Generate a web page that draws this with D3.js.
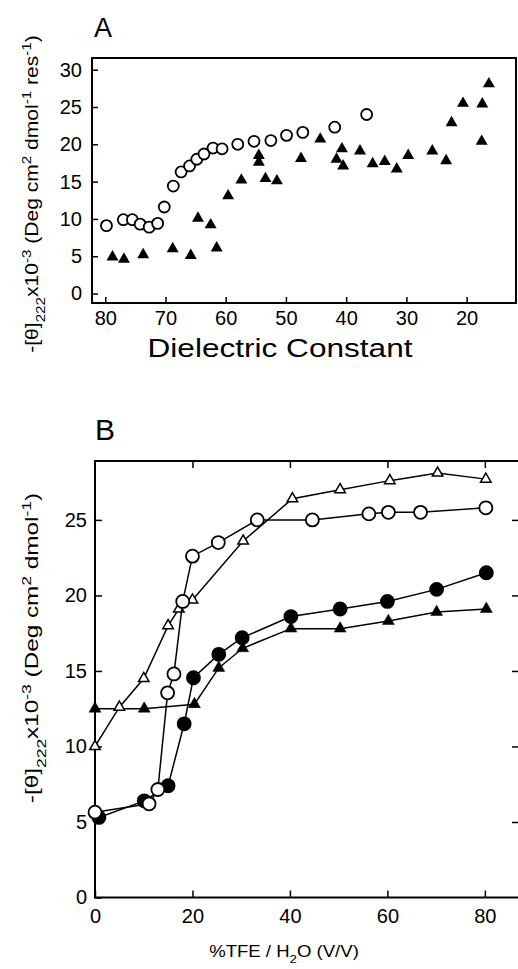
<!DOCTYPE html>
<html>
<head>
<meta charset="utf-8">
<script src="https://cdn.jsdelivr.net/npm/d3@7"></script>
<style>
  body { margin: 0; background: #fff; }
  svg { display: block; }
  text { font-family: "Liberation Sans", Arial, sans-serif; fill: #000; }
</style>
</head>
<body>
<svg id="chart" width="518" height="969"></svg>
<script>
// ---- panel A : dielectric constant ----
var aCircleX = [79.8, 77.0, 75.5, 74.2, 72.7, 71.3, 70.2, 68.7, 67.4, 66.0, 64.8, 63.6, 62.1, 60.6, 58.0, 55.3, 52.5, 49.9, 47.2, 41.9, 36.6];
var aCircleY = [9.1, 9.9, 9.9, 9.3, 8.9, 9.4, 11.6, 14.4, 16.3, 17.1, 18.0, 18.7, 19.5, 19.4, 20.0, 20.4, 20.5, 21.2, 21.6, 22.3, 24.0];
var aTriX = [78.8, 76.9, 73.7, 68.8, 65.8, 64.6, 62.5, 61.5, 59.6, 57.4, 54.5, 54.5, 53.4, 51.5, 47.5, 44.3, 41.6, 40.7, 40.5, 37.7, 35.6, 33.6, 31.6, 29.7, 25.7, 23.4, 22.5, 20.6, 17.5, 17.4, 16.3];
var aTriY = [4.9, 4.6, 5.2, 6.0, 5.1, 10.1, 9.2, 6.1, 13.1, 15.2, 18.5, 17.6, 15.4, 15.1, 18.1, 20.7, 18.0, 19.4, 17.1, 19.1, 17.4, 17.7, 16.7, 18.5, 19.1, 17.8, 22.9, 25.5, 20.4, 25.4, 28.1];
var aXTicks = [80, 70, 60, 50, 40, 30, 20];
var aYTicks = [0, 5, 10, 15, 20, 25, 30];

// ---- panel B : %TFE ----
var bOpenTriX = [0, 5, 10, 15, 17.2, 20, 30.4, 40.5, 50.3, 60.5, 70.3, 80.2];
var bOpenTriY = [10.0, 12.6, 14.5, 18.0, 19.1, 19.7, 23.6, 26.4, 27.0, 27.6, 28.1, 27.7];
var bOpenCircX = [0, 11.1, 12.9, 14.9, 16.2, 18.0, 20.0, 25.3, 33.3, 44.6, 56.2, 60.2, 66.8, 80.2];
var bOpenCircY = [5.65, 6.2, 7.15, 13.55, 14.8, 19.6, 22.6, 23.5, 25.0, 25.0, 25.4, 25.5, 25.5, 25.8];
var bFillCircX = [0.8, 10.1, 15.0, 18.3, 20.2, 25.4, 30.2, 40.2, 50.3, 60.0, 70.1, 80.3];
var bFillCircY = [5.3, 6.4, 7.4, 11.5, 14.55, 16.1, 17.2, 18.6, 19.1, 19.6, 20.4, 21.5];
var bFillTriX = [0, 10.1, 20.4, 25.4, 30.3, 40.2, 50.3, 60.2, 70.1, 80.3];
var bFillTriY = [12.5, 12.5, 12.8, 15.2, 16.5, 17.8, 17.8, 18.3, 18.9, 19.1];
var bXTicks = [0, 20, 40, 60, 80];
var bYTicks = [0, 5, 10, 15, 20, 25];

var svg = d3.select("#chart");

function zip(xs, ys) { return xs.map(function(x, i) { return [x, ys[i]]; }); }

// rich text: parts = [[text, "sub"|"sup"|null], ...]
function richText(g, parts, size) {
  var t = g.append("text").attr("font-size", size);
  parts.forEach(function(p) {
    var s = t.append("tspan").text(p[0]);
    if (p[1] === "sub") s.attr("baseline-shift", "sub").attr("font-size", size * 0.72);
    if (p[1] === "sup") s.attr("baseline-shift", "super").attr("font-size", size * 0.72);
  });
  return t;
}

function styleAxis(g, fs) {
  g.select(".domain").remove();
  g.selectAll(".tick line").attr("stroke", "#000").attr("stroke-width", 1.5);
  g.selectAll(".tick text").attr("font-size", fs).attr("font-family", "Liberation Sans, Arial, sans-serif");
}

// ================= Panel A =================
var xA = d3.scaleLinear().domain([82.2, 11.8]).range([92, 516]);
var yA = d3.scaleLinear().domain([-1.27, 31.57]).range([303, 58]);

var gA = svg.append("g");
gA.append("rect")
  .attr("x", xA.range()[0]).attr("y", yA.range()[1])
  .attr("width", xA.range()[1] - xA.range()[0])
  .attr("height", yA.range()[0] - yA.range()[1])
  .attr("fill", "none").attr("stroke", "#000").attr("stroke-width", 2);

gA.append("g").attr("transform", "translate(0," + yA.range()[0] + ")")
  .call(d3.axisBottom(xA).tickValues(aXTicks).tickSize(-6).tickPadding(8))
  .call(styleAxis, 20);
gA.append("g").attr("transform", "translate(" + xA.range()[0] + ",0)")
  .call(d3.axisLeft(yA).tickValues(aYTicks).tickSize(-6).tickPadding(10))
  .call(styleAxis, 20);

gA.append("g").selectAll("circle").data(zip(aCircleX, aCircleY)).join("circle")
  .attr("cx", function(d) { return xA(d[0]); })
  .attr("cy", function(d) { return yA(d[1]); })
  .attr("r", 5.5).attr("fill", "#fff").attr("stroke", "#000").attr("stroke-width", 1.8);

gA.append("g").selectAll("path").data(zip(aTriX, aTriY)).join("path")
  .attr("d", d3.symbol(d3.symbolTriangle).size(62))
  .attr("transform", function(d) { return "translate(" + xA(d[0]) + "," + yA(d[1]) + ")"; })
  .attr("fill", "#000");

gA.append("text").attr("x", 94).attr("y", 37).attr("font-size", 27).text("A");
gA.append("text").attr("x", 280).attr("y", 357).attr("text-anchor", "middle")
  .attr("font-size", 25).attr("textLength", 265).attr("lengthAdjust", "spacingAndGlyphs")
  .text("Dielectric Constant");

var labA = gA.append("g").attr("transform", "translate(38,194) rotate(-90) scale(1.17,1)");
richText(labA, [["-[θ]", null], ["222", "sub"], ["x10", null], ["-3", "sup"],
  [" (Deg cm", null], ["2", "sup"], [" dmol", null], ["-1", "sup"], [" res", null], ["-1", "sup"], [")", null]], 18)
  .attr("text-anchor", "middle");

// ================= Panel B =================
var xB = d3.scaleLinear().domain([0, 86.8]).range([95, 518]);
var yB = d3.scaleLinear().domain([0, 28.9]).range([897.5, 461]);

var gB = svg.append("g");
gB.append("rect")
  .attr("x", xB.range()[0]).attr("y", yB.range()[1])
  .attr("width", xB.range()[1] - xB.range()[0] + 2)
  .attr("height", yB.range()[0] - yB.range()[1])
  .attr("fill", "none").attr("stroke", "#000").attr("stroke-width", 2);

gB.append("g").attr("transform", "translate(0," + yB.range()[0] + ")")
  .call(d3.axisBottom(xB).tickValues(bXTicks).tickSize(-7).tickPadding(11))
  .call(styleAxis, 20);
gB.append("g").attr("transform", "translate(0," + yB.range()[1] + ")")
  .call(d3.axisTop(xB).tickValues(bXTicks.slice(1)).tickSize(-7).tickFormat(""))
  .call(styleAxis, 20);
gB.append("g").attr("transform", "translate(" + xB.range()[0] + ",0)")
  .call(d3.axisLeft(yB).tickValues(bYTicks).tickSize(-7).tickPadding(8))
  .call(styleAxis, 20);
gB.append("g").attr("transform", "translate(518,0)")
  .call(d3.axisRight(yB).tickValues(bYTicks.slice(1)).tickSize(-6).tickFormat(""))
  .call(styleAxis, 20);

var line = d3.line().x(function(d) { return xB(d[0]); }).y(function(d) { return yB(d[1]); });

function series(xs, ys, kind, filled) {
  var pts = zip(xs, ys);
  var g = gB.append("g");
  g.append("path").attr("d", line(pts)).attr("fill", "none").attr("stroke", "#000").attr("stroke-width", 1.5);
  if (kind === "circle") {
    g.selectAll("circle").data(pts).join("circle")
      .attr("cx", function(d) { return xB(d[0]); })
      .attr("cy", function(d) { return yB(d[1]); })
      .attr("r", 6.5)
      .attr("fill", filled ? "#000" : "#fff")
      .attr("stroke", "#000").attr("stroke-width", 1.8);
  } else {
    g.selectAll("path.m").data(pts).join("path").attr("class", "m")
      .attr("d", d3.symbol(d3.symbolTriangle).size(filled ? 62 : 48))
      .attr("transform", function(d) { return "translate(" + xB(d[0]) + "," + yB(d[1]) + ")"; })
      .attr("fill", filled ? "#000" : "#fff")
      .attr("stroke", "#000").attr("stroke-width", filled ? 0.5 : 1.5);
  }
}
series(bFillTriX, bFillTriY, "tri", true);
series(bFillCircX, bFillCircY, "circle", true);
series(bOpenTriX, bOpenTriY, "tri", false);
series(bOpenCircX, bOpenCircY, "circle", false);

gB.append("text").attr("x", 95).attr("y", 440).attr("font-size", 30).text("B");
var labX = gB.append("g").attr("transform", "translate(284,957) scale(1.16,1)");
richText(labX, [["%TFE / H", null], ["2", "sub"], ["O (V/V)", null]], 16).attr("text-anchor", "middle");

var labB = gB.append("g").attr("transform", "translate(38,648) rotate(-90) scale(1.35,1)");
richText(labB, [["-[θ]", null], ["222", "sub"], ["x10", null], ["-3", "sup"],
  [" (Deg cm", null], ["2", "sup"], [" dmol", null], ["-1", "sup"], [")", null]], 18)
  .attr("text-anchor", "middle");
</script>
</body>
</html>
